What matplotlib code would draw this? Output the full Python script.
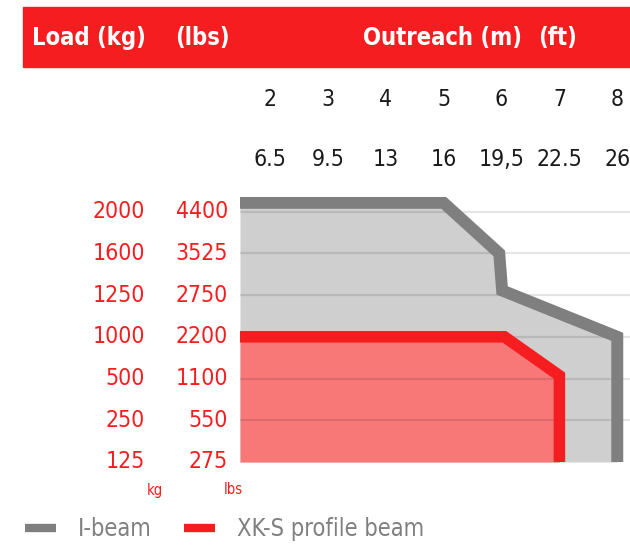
import matplotlib
matplotlib.use("Agg")
import matplotlib.pyplot as plt
import matplotlib.transforms as mtransforms
from matplotlib.patches import Rectangle
from matplotlib.lines import Line2D

# data (load levels are an ordinal scale, index 0..6)
outreach_m = [2, 3, 4, 5, 6, 7, 8]
outreach_ft = ['6.5', '9.5', '13', '16', '19,5', '22.5', '26']
load_kg = ['125', '250', '500', '1000', '1250', '1600', '2000']
load_lbs = ['275', '550', '1100', '2200', '2750', '3525', '4400']
load_idx = list(range(len(load_kg)))

ibeam_x = [1.48, 5.0, 5.96, 6.01, 8.0, 8.0]
ibeam_y = [6.21, 6.21, 5.0, 4.11, 3.0, 0.0]
xks_x = [1.48, 6.05, 7.0, 7.0]
xks_y = [3.0, 3.0, 2.07, 0.0]

RED = '#F51D1F'
GRAY = '#7F7F7F'

plt.rcParams['font.stretch'] = 'condensed'

fig = plt.figure(figsize=(6.3, 5.46), dpi=100)
ax = fig.add_axes([240/630, 1-462/546, 390/630, 265/546])

ax.fill_between(ibeam_x, ibeam_y, 0, color='#CFCFCF', lw=0, zorder=1)
ax.fill_between(xks_x, xks_y, 0, color='#F87878', lw=0, zorder=1.1)
ax.plot(ibeam_x, ibeam_y, color=GRAY, lw=8.6, solid_joinstyle='miter',
        solid_capstyle='butt', zorder=3)
ax.plot(xks_x, xks_y, color=RED, lw=8.3, solid_joinstyle='miter',
        solid_capstyle='butt', zorder=3.1)

ax.set_xlim(1.48, 8.22)
ax.set_ylim(0, 6.35)
ax.set_yticks(load_idx)
ax.set_yticklabels([])
ax.set_xticks([])
ax.tick_params(length=0)
ax.set_axisbelow(False)
ax.grid(axis='y', color='black', alpha=0.1, lw=1.6)
ax.get_ygridlines()[0].set_visible(False)
for s in ax.spines.values():
    s.set_visible(False)

# y labels (kg and lbs columns)
ytrans = mtransforms.blended_transform_factory(fig.transFigure, ax.transData)
for i, kg, lb in zip(load_idx, load_kg, load_lbs):
    fig.text(145/630, i, kg, transform=ytrans, ha='right', va='center',
             color=RED, fontsize=16.5)
    fig.text(228/630, i, lb, transform=ytrans, ha='right', va='center',
             color=RED, fontsize=16.5)
fig.text(155/630, 1-490/546, 'kg', ha='center', va='center', color=RED, fontsize=10.5)
fig.text(233/630, 1-490/546, 'lbs', ha='center', va='center', color=RED, fontsize=10.5)

# x labels on top (m and ft rows)
xtrans = mtransforms.blended_transform_factory(ax.transData, fig.transFigure)
for m, ft in zip(outreach_m, outreach_ft):
    fig.text(m, 1-100/546, str(m), transform=xtrans, ha='center', va='center',
             color='#1a1a1a', fontsize=16.5)
    fig.text(m, 1-159/546, ft, transform=xtrans, ha='center', va='center',
             color='#1a1a1a', fontsize=16.5)

# header bar
fig.patches.append(Rectangle((23/630, 1-67/546), 1, 60/546, transform=fig.transFigure,
                             color=RED, zorder=0))
hy = 1-38/546
for x, s in [(32, 'Load (kg)'), (175, '(lbs)'), (363, 'Outreach (m)'), (538, '(ft)')]:
    fig.text(x/630, hy, s, ha='left', va='center', color='white',
             fontsize=17, fontweight='bold')

# legend
handles = [Line2D([], [], color=GRAY, lw=6, solid_capstyle='butt'),
           Line2D([], [], color=RED, lw=6, solid_capstyle='butt')]
leg = fig.legend(handles, ['I-beam', 'XK-S profile beam'], loc='center left',
                 bbox_to_anchor=(4/630, 1-529/546), ncol=2, frameon=False,
                 fontsize=17, handlelength=1.31, handletextpad=0.93,
                 columnspacing=1.35)
for t in leg.get_texts():
    t.set_color('#808080')

fig.savefig('out.png', dpi=100)
